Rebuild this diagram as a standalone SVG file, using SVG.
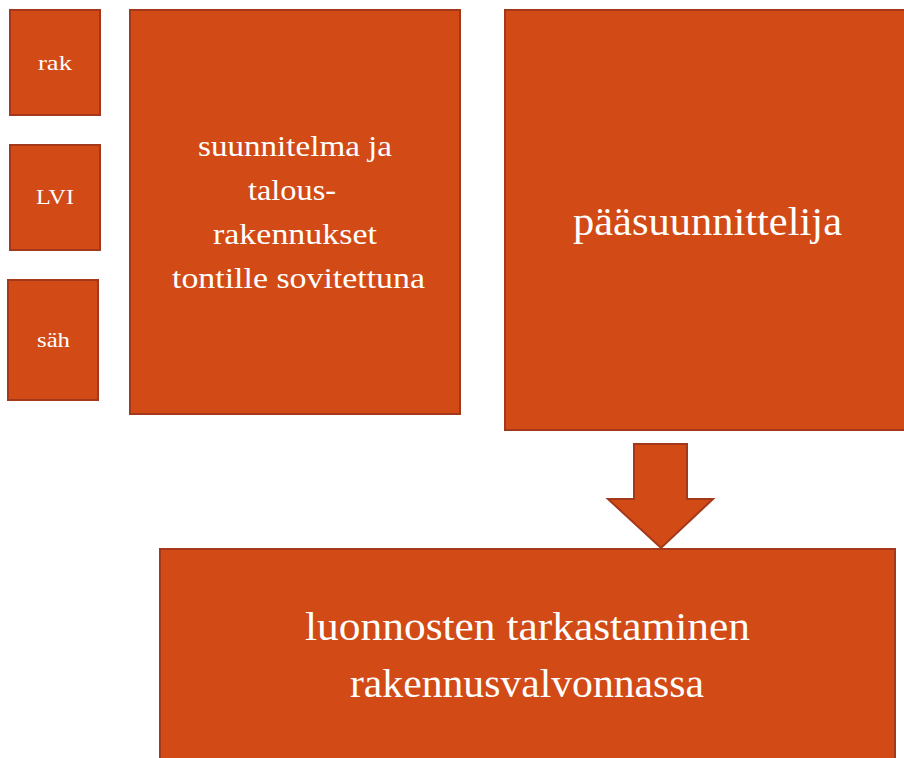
<svg xmlns="http://www.w3.org/2000/svg" width="904" height="758" viewBox="0 0 904 758">
<style>
.box{fill:#D24A16;stroke:#A3391A;stroke-width:2}
.t{font-family:"Liberation Serif","DejaVu Serif",serif;fill:#FFFFFF;text-anchor:middle}
</style>
<rect width="904" height="758" fill="#FFFFFF"/>
<g id="rak"><rect class="box" x="10" y="10" width="90" height="105"/><text class="t" x="55" y="70" font-size="22" textLength="34" lengthAdjust="spacingAndGlyphs">rak</text></g>
<g id="lvi"><rect class="box" x="10" y="145" width="90" height="105"/><text class="t" x="55" y="204" font-size="22" textLength="38" lengthAdjust="spacingAndGlyphs">LVI</text></g>
<g id="sah"><rect class="box" x="8" y="280" width="90" height="120"/><text class="t" x="53.5" y="347" font-size="22" textLength="33" lengthAdjust="spacingAndGlyphs">säh</text></g>
<g id="suunnitelma"><rect class="box" x="130" y="10" width="330" height="404"/>
<text class="t" font-size="29" lengthAdjust="spacingAndGlyphs"><tspan x="295" y="156" textLength="194" lengthAdjust="spacingAndGlyphs">suunnitelma ja</tspan><tspan x="292" y="200" textLength="88" lengthAdjust="spacingAndGlyphs">talous-</tspan><tspan x="295" y="244" textLength="164" lengthAdjust="spacingAndGlyphs">rakennukset</tspan><tspan x="298.5" y="288" textLength="253" lengthAdjust="spacingAndGlyphs">tontille sovitettuna</tspan></text></g>
<g id="paasuunnittelija"><rect class="box" x="505" y="10" width="405" height="420"/><text class="t" x="707.5" y="235" font-size="41" textLength="269" lengthAdjust="spacingAndGlyphs">pääsuunnittelija</text></g>
<g id="connectors"><path class="box" d="M634,444 H687 V499 H713 L661,548 L608,499 H634 Z"/></g>
<g id="luonnosten"><rect class="box" x="160" y="549" width="735" height="215"/>
<text class="t" font-size="39"><tspan x="527.5" y="640" textLength="445" lengthAdjust="spacingAndGlyphs">luonnosten tarkastaminen</tspan><tspan x="527" y="697" textLength="354" lengthAdjust="spacingAndGlyphs">rakennusvalvonnassa</tspan></text></g>
</svg>
